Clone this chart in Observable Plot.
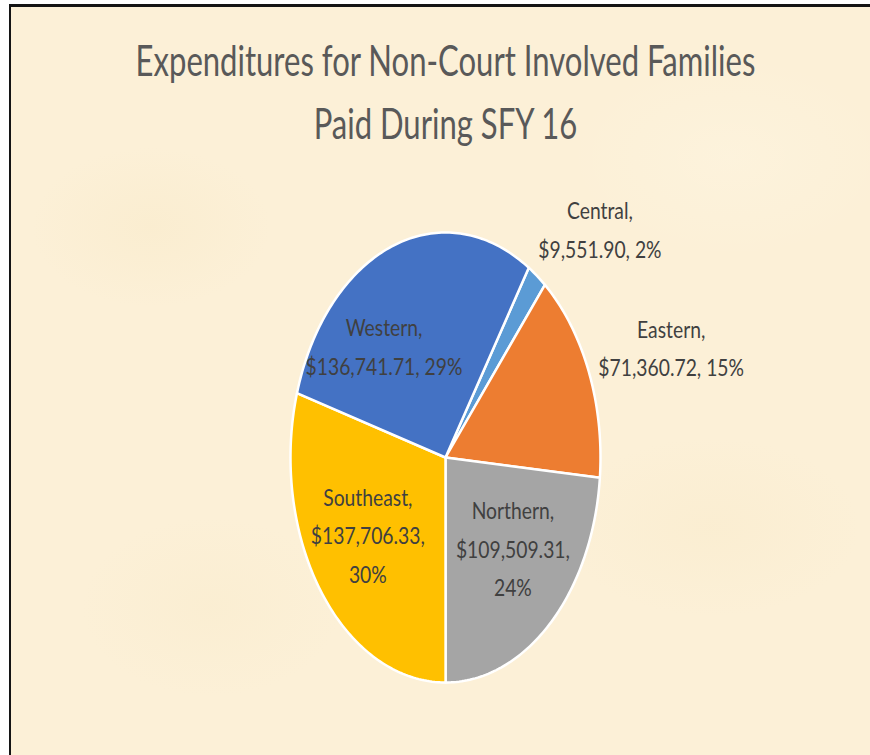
<!DOCTYPE html>
<html><head><meta charset="utf-8">
<script src="https://cdn.jsdelivr.net/npm/d3@7"></script>
<script src="https://cdn.jsdelivr.net/npm/@observablehq/plot@0.6"></script>
<style>
html,body{margin:0;padding:0;background:#fff;width:870px;height:755px;overflow:hidden;}
#paper{position:absolute;left:9px;top:4px;width:861px;height:751px;box-sizing:border-box;
  border-top:3px solid #141414;border-left:2px solid #141414;
  background:
   radial-gradient(ellipse 120px 80px at 140px 220px, rgba(240,220,170,0.15), transparent),
   radial-gradient(ellipse 150px 90px at 700px 520px, rgba(240,220,170,0.12), transparent),
   radial-gradient(ellipse 130px 90px at 200px 600px, rgba(240,222,175,0.12), transparent),
   radial-gradient(ellipse 160px 100px at 720px 150px, rgba(255,250,235,0.25), transparent),
   #fcf0d7;}
#chart{position:absolute;left:0;top:0;}
</style></head><body>
<div id="paper"></div><div id="chart"></div>
<script>
// ---- data ----
const regions = ["Central", "Eastern", "Northern", "Southeast", "Western"];
const amounts = [9551.90, 71360.72, 109509.31, 137706.33, 136741.71];
const titleLines = ["Expenditures for Non-Court Involved Families", "Paid During SFY 16"];

// ---- styles / layout ----
const sliceColors = ["#5B9BD5", "#ED7D31", "#A5A5A5", "#FFC000", "#4472C4"];
const firstSliceAngle = 32.5;              // degrees clockwise from 12 o'clock
const labelRadius = [1.45, 1.5, 0.6, 0.6, 0.62];
const labelNudge = [[0.14, -0.16], [0.07, -0.09], [0.03, 0.035], [-0.02, 0.01], [-0.18, -0.09]];
const pctOwnLine = [false, false, true, true, false];
const font = "Lato, 'Open Sans', sans-serif";
const titleWidth = 620;   // px width of first title line in the reference
const labelWidth = 157;   // px width of "$136,741.71, 29%" in the reference

const total = d3.sum(amounts);
const money = d3.format(",.2f");
const rad = Math.PI / 180;

let acc = firstSliceAngle;
const slices = regions.map((r, i) => {
  const a0 = acc, a1 = acc + amounts[i] / total * 360;
  acc = a1;
  return {region: r, a0, a1, mid: (a0 + a1) / 2, value: amounts[i], pct: Math.round(amounts[i] / total * 100)};
});

// polygon outline of each slice in unit coordinates
const outline = [];
for (const s of slices) {
  const n = Math.max(8, Math.ceil(s.a1 - s.a0));
  outline.push({region: s.region, u: 0, v: 0});
  for (let k = 0; k <= n; k++) {
    const a = (s.a0 + (s.a1 - s.a0) * k / n) * rad;
    outline.push({region: s.region, u: Math.sin(a), v: Math.cos(a)});
  }
  outline.push({region: s.region, u: 0, v: 0});
}

const labels = slices.map((s, i) => ({
  u: labelRadius[i] * Math.sin(s.mid * rad) + labelNudge[i][0],
  v: labelRadius[i] * Math.cos(s.mid * rad) + labelNudge[i][1],
  text: pctOwnLine[i]
    ? `${s.region},\n$${money(s.value)},\n${s.pct}%`
    : `${s.region},\n$${money(s.value)}, ${s.pct}%`
}));

const chart = Plot.plot({
  width: 870,
  height: 755,
  margin: 0,
  style: {background: "transparent", overflow: "visible"},
  x: {domain: [-1, 1], range: [290, 600], axis: null},
  y: {domain: [-1, 1], range: [682, 232], axis: null},
  color: {domain: regions, range: sliceColors},
  marks: [
    Plot.line(outline, {x: "u", y: "v", z: "region", fill: "region", stroke: "white", strokeWidth: 2.5, strokeLinejoin: "round", curve: "linear"}),
    Plot.text(labels, {x: "u", y: "v", dy: -4, text: "text", fill: "#404040", fontSize: 23, fontFamily: font, lineHeight: 1.67, textAnchor: "middle", className: "lbl"}),
    Plot.text([titleLines.join("\n")], {x: () => 0, frameAnchor: "top", dy: 31, lineAnchor: "top", text: d => d, fill: "#595959", fontSize: 42, fontFamily: font, lineHeight: 1.5, textAnchor: "middle", className: "ttl"})
  ]
});
document.getElementById("chart").appendChild(chart);

// condense text horizontally to mimic the narrow Calibri face of the original
function condense(sel, target, pick) {
  const texts = chart.querySelectorAll(sel + " text");
  const ref = pick(texts);
  if (!ref) return;
  const w = ref.getComputedTextLength();
  const sx = target / w;
  texts.forEach(t => {
    const tr = t.getAttribute("transform") || "";
    t.setAttribute("transform", tr + ` scale(${sx},1)`);
  });
}
condense(".ttl", titleWidth, ts => ts[0] && ts[0].querySelector("tspan"));
condense(".lbl", labelWidth, ts => {
  const t = ts[4];
  return t && t.querySelectorAll("tspan")[1];
});
</script>
</body></html>
